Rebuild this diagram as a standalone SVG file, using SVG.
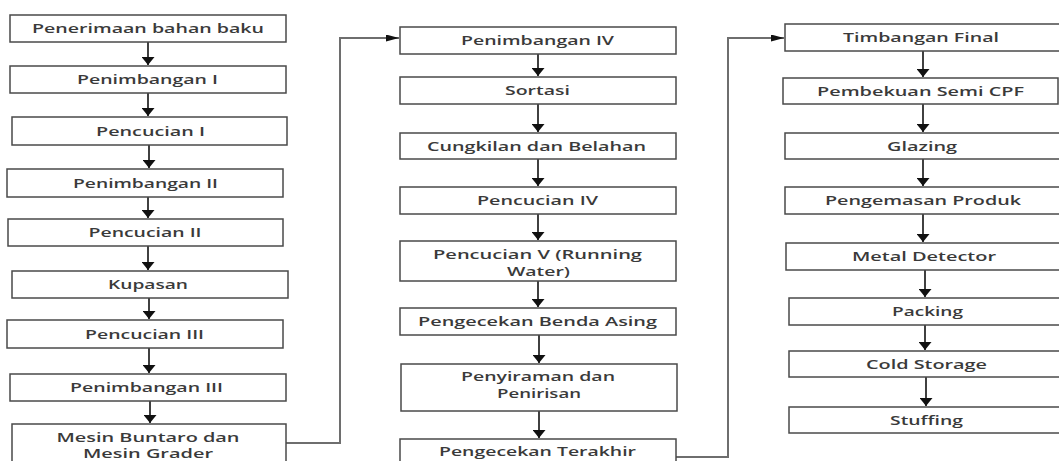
<svg xmlns="http://www.w3.org/2000/svg" width="1059" height="461" viewBox="0 0 1059 461">
<defs>
<style>
.box{fill:#fff;stroke:#4a4a4a;stroke-width:1.5}
.t{font-family:"Open Sans","Noto Sans","DejaVu Sans",sans-serif;font-size:12.6px;font-weight:600;fill:#3a3a3a;text-anchor:middle}
.a{stroke:#111;stroke-width:1.6;fill:none;marker-end:url(#av)}
.c{stroke:#6e6e6e;stroke-width:2;fill:none;marker-end:url(#ah)}
</style>
<marker id="av" markerUnits="userSpaceOnUse" markerWidth="8" markerHeight="13" viewBox="0 0 8 13" refX="8" refY="6.5" orient="auto"><path d="M0,0 L8,6.5 L0,13 Z" fill="#111"/></marker>
<marker id="ah" markerUnits="userSpaceOnUse" markerWidth="13" markerHeight="7" viewBox="0 0 13 7" refX="13" refY="3.5" orient="auto"><path d="M0,0 L13,3.5 L0,7 Z" fill="#111"/></marker>
</defs>
<rect width="1059" height="461" fill="#fff"/>
<g id="connectors">
<line class="a" x1="148" y1="42" x2="148" y2="65"/>
<line class="a" x1="148" y1="93" x2="148" y2="116"/>
<line class="a" x1="149" y1="145" x2="149" y2="168"/>
<line class="a" x1="148" y1="197" x2="148" y2="218"/>
<line class="a" x1="148" y1="246" x2="148" y2="270"/>
<line class="a" x1="149" y1="298" x2="149" y2="319"/>
<line class="a" x1="149" y1="348" x2="149" y2="373"/>
<line class="a" x1="150" y1="401" x2="150" y2="423"/>
<line class="a" x1="538" y1="54" x2="538" y2="76"/>
<line class="a" x1="538" y1="104" x2="538" y2="132"/>
<line class="a" x1="538" y1="159" x2="538" y2="186"/>
<line class="a" x1="538" y1="214" x2="538" y2="240"/>
<line class="a" x1="538" y1="281" x2="538" y2="307"/>
<line class="a" x1="539" y1="335" x2="539" y2="363"/>
<line class="a" x1="539" y1="411" x2="539" y2="438"/>
<line class="a" x1="923" y1="51" x2="923" y2="77"/>
<line class="a" x1="923" y1="104" x2="923" y2="132"/>
<line class="a" x1="923" y1="159" x2="923" y2="186"/>
<line class="a" x1="923" y1="214" x2="923" y2="242"/>
<line class="a" x1="925" y1="270" x2="925" y2="297"/>
<line class="a" x1="925" y1="325" x2="925" y2="350"/>
<line class="a" x1="926" y1="377" x2="926" y2="406"/>
<polyline class="c" points="286,443 340,443 340,38 399,38"/>
<polyline class="c" points="676,457 728,457 728,38 784,38"/>
</g>
<g id="n1"><rect class="box" x="10" y="15" width="276" height="27"/><text class="t" x="148" y="33" textLength="232" lengthAdjust="spacingAndGlyphs">Penerimaan bahan baku</text></g>
<g id="n2"><rect class="box" x="10" y="66" width="276" height="27"/><text class="t" x="147.5" y="84" textLength="141" lengthAdjust="spacingAndGlyphs">Penimbangan I</text></g>
<g id="n3"><rect class="box" x="12" y="117" width="275" height="28"/><text class="t" x="150.5" y="135.5" textLength="109" lengthAdjust="spacingAndGlyphs">Pencucian I</text></g>
<g id="n4"><rect class="box" x="7" y="169" width="276" height="28"/><text class="t" x="145.5" y="187.5" textLength="145" lengthAdjust="spacingAndGlyphs">Penimbangan II</text></g>
<g id="n5"><rect class="box" x="8" y="219" width="275" height="27"/><text class="t" x="145" y="237" textLength="113" lengthAdjust="spacingAndGlyphs">Pencucian II</text></g>
<g id="n6"><rect class="box" x="12" y="271" width="276" height="27"/><text class="t" x="148" y="289" textLength="80" lengthAdjust="spacingAndGlyphs">Kupasan</text></g>
<g id="n7"><rect class="box" x="7" y="320" width="276" height="28"/><text class="t" x="144.5" y="338.5" textLength="119" lengthAdjust="spacingAndGlyphs">Pencucian III</text></g>
<g id="n8"><rect class="box" x="10" y="374" width="276" height="27"/><text class="t" x="146.5" y="392" textLength="153" lengthAdjust="spacingAndGlyphs">Penimbangan III</text></g>
<g id="n9"><rect class="box" x="12" y="424" width="274" height="45"/><text class="t" x="148" y="442" textLength="183" lengthAdjust="spacingAndGlyphs">Mesin Buntaro dan</text><text class="t" x="148" y="457.5" textLength="130" lengthAdjust="spacingAndGlyphs">Mesin Grader</text></g>
<g id="n10"><rect class="box" x="400" y="27" width="276" height="27"/><text class="t" x="537.5" y="45" textLength="153" lengthAdjust="spacingAndGlyphs">Penimbangan IV</text></g>
<g id="n11"><rect class="box" x="400" y="77" width="276" height="27"/><text class="t" x="537.5" y="95" textLength="65" lengthAdjust="spacingAndGlyphs">Sortasi</text></g>
<g id="n12"><rect class="box" x="400" y="133" width="276" height="26"/><text class="t" x="536.5" y="150.5" textLength="219" lengthAdjust="spacingAndGlyphs">Cungkilan dan Belahan</text></g>
<g id="n13"><rect class="box" x="400" y="187" width="276" height="27"/><text class="t" x="537.5" y="205" textLength="121" lengthAdjust="spacingAndGlyphs">Pencucian IV</text></g>
<g id="n14"><rect class="box" x="400" y="241" width="276" height="40"/><text class="t" x="537.5" y="259" textLength="209" lengthAdjust="spacingAndGlyphs">Pencucian V (Running</text><text class="t" x="538.5" y="276" textLength="63" lengthAdjust="spacingAndGlyphs">Water)</text></g>
<g id="n15"><rect class="box" x="400" y="308" width="276" height="27"/><text class="t" x="537.5" y="326" textLength="239" lengthAdjust="spacingAndGlyphs">Pengecekan Benda Asing</text></g>
<g id="n16"><rect class="box" x="401" y="364" width="276" height="47"/><text class="t" x="538" y="381" textLength="154" lengthAdjust="spacingAndGlyphs">Penyiraman dan</text><text class="t" x="539" y="398" textLength="84" lengthAdjust="spacingAndGlyphs">Penirisan</text></g>
<g id="n17"><rect class="box" x="400" y="439" width="276" height="30"/><text class="t" x="537.5" y="456" textLength="197" lengthAdjust="spacingAndGlyphs">Pengecekan Terakhir</text></g>
<g id="n18"><rect class="box" x="785" y="24" width="280" height="27"/><text class="t" x="921" y="42" textLength="156" lengthAdjust="spacingAndGlyphs">Timbangan Final</text></g>
<g id="n19"><rect class="box" x="783" y="78" width="275" height="26"/><text class="t" x="920.5" y="95.5" textLength="207" lengthAdjust="spacingAndGlyphs">Pembekuan Semi CPF</text></g>
<g id="n20"><rect class="box" x="785" y="133" width="280" height="26"/><text class="t" x="922" y="150.5" textLength="70" lengthAdjust="spacingAndGlyphs">Glazing</text></g>
<g id="n21"><rect class="box" x="785" y="187" width="280" height="27"/><text class="t" x="923" y="205" textLength="196" lengthAdjust="spacingAndGlyphs">Pengemasan Produk</text></g>
<g id="n22"><rect class="box" x="786" y="243" width="280" height="27"/><text class="t" x="924" y="261" textLength="144" lengthAdjust="spacingAndGlyphs">Metal Detector</text></g>
<g id="n23"><rect class="box" x="789" y="298" width="280" height="27"/><text class="t" x="927.5" y="316" textLength="71" lengthAdjust="spacingAndGlyphs">Packing</text></g>
<g id="n24"><rect class="box" x="789" y="351" width="280" height="26"/><text class="t" x="926.5" y="368.5" textLength="121" lengthAdjust="spacingAndGlyphs">Cold Storage</text></g>
<g id="n25"><rect class="box" x="789" y="407" width="280" height="26"/><text class="t" x="926.5" y="424.5" textLength="73" lengthAdjust="spacingAndGlyphs">Stuffing</text></g>
</svg>
